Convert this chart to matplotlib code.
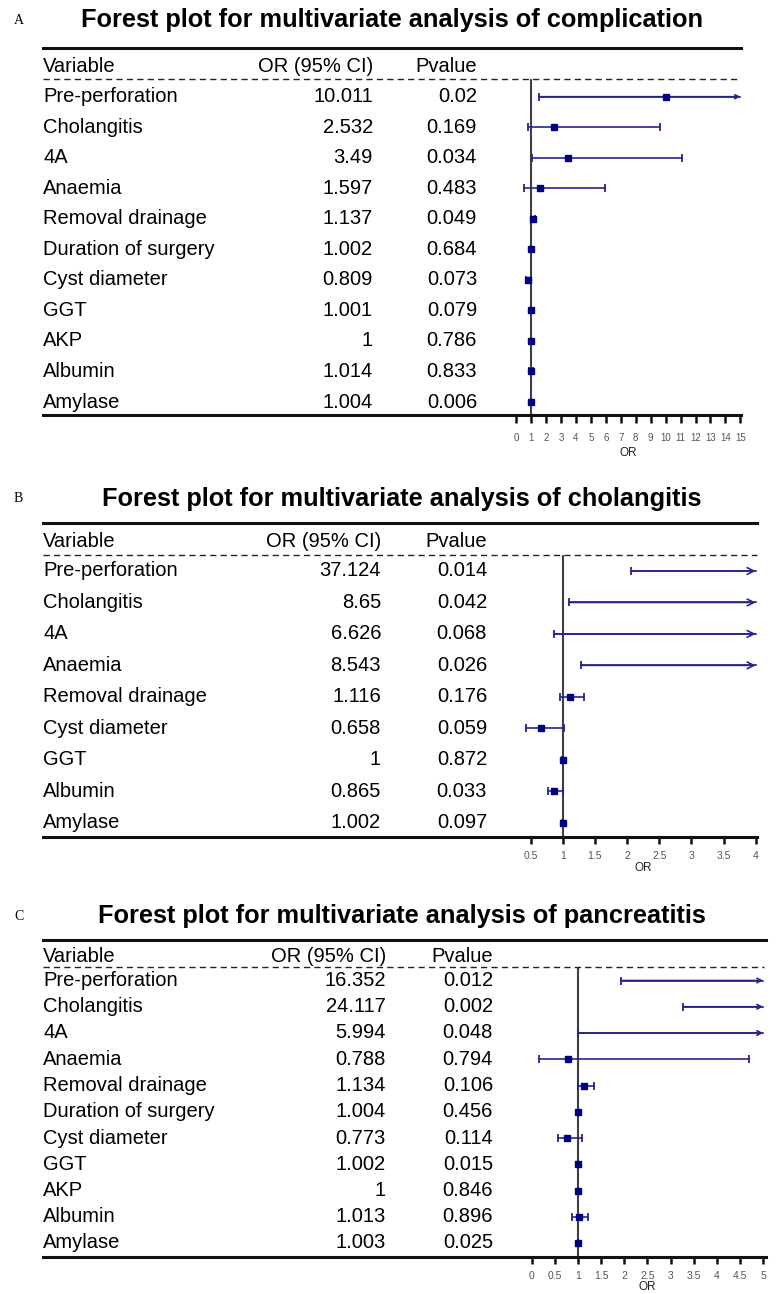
import numpy as np
import matplotlib.pyplot as plt
from matplotlib.transforms import blended_transform_factory

plt.rcParams['font.family'] = ['Liberation Sans', 'DejaVu Sans']

W, H = 777, 1294

# ---- data: panel A, complication ----
a_vars = ['Pre-perforation', 'Cholangitis', '4A', 'Anaemia', 'Removal drainage',
          'Duration of surgery', 'Cyst diameter', 'GGT', 'AKP', 'Albumin', 'Amylase']
a_or = [10.011, 2.532, 3.49, 1.597, 1.137, 1.002, 0.809, 1.001, 1, 1.014, 1.004]
a_p = [0.02, 0.169, 0.034, 0.483, 0.049, 0.684, 0.073, 0.079, 0.786, 0.833, 0.006]
a_lo = [1.56, 0.78, 1.05, 0.51, 1.0, 0.99, 0.66, 0.99, 0.99, 0.9, 0.99]
a_hi = [np.inf, 9.6, 11.1, 5.95, 1.29, 1.01, 1.0, 1.01, 1.01, 1.14, 1.02]
a_ticks = list(range(0, 16))

# ---- data: panel B, cholangitis ----
b_vars = ['Pre-perforation', 'Cholangitis', '4A', 'Anaemia', 'Removal drainage',
          'Cyst diameter', 'GGT', 'Albumin', 'Amylase']
b_or = [37.124, 8.65, 6.626, 8.543, 1.116, 0.658, 1, 0.865, 1.002]
b_p = [0.014, 0.042, 0.068, 0.026, 0.176, 0.059, 0.872, 0.033, 0.097]
b_lo = [2.06, 1.09, 0.87, 1.29, 0.96, 0.43, 0.99, 0.77, 0.99]
b_hi = [np.inf, np.inf, np.inf, np.inf, 1.33, 1.02, 1.01, 1.0, 1.01]
b_ticks = [0.5, 1, 1.5, 2, 2.5, 3, 3.5, 4]

# ---- data: panel C, pancreatitis ----
c_vars = a_vars
c_or = [16.352, 24.117, 5.994, 0.788, 1.134, 1.004, 0.773, 1.002, 1, 1.013, 1.003]
c_p = [0.012, 0.002, 0.048, 0.794, 0.106, 0.456, 0.114, 0.015, 0.846, 0.896, 0.025]
c_lo = [1.93, 3.27, 1.0, 0.16, 0.99, 0.99, 0.575, 0.99, 0.99, 0.88, 0.99]
c_hi = [np.inf, np.inf, np.inf, 4.7, 1.35, 1.01, 1.08, 1.01, 1.01, 1.22, 1.01]
c_ticks = [0, 0.5, 1, 1.5, 2, 2.5, 3, 3.5, 4, 4.5, 5]

line_col = '#25258f'
mark_col = '#000080'

fig = plt.figure(figsize=(W / 100, H / 100), dpi=100)


def draw_panel(letter, title, names, ors, ps, lo, hi, ticks, g):
    row0, step = g['row0'], g['step']
    rows = lambda py: (py - row0) / step
    x0, ppu = g['x0'], g['ppu']
    ax = fig.add_axes([490 / W, 1 - g['axis'] / H, 285 / W, (g['axis'] - g['dashed']) / H])
    ax.set_xlim((490 - x0) / ppu, (775 - x0) / ppu)
    ax.set_ylim(rows(g['axis']), rows(g['dashed']))
    for s in ax.spines.values():
        s.set_visible(False)
    ax.set_yticks([])
    ax.set_xticks(ticks)
    ax.set_xticklabels([f'{t:g}' for t in ticks], fontsize=g['tfs'], color='#555555')
    ax.tick_params(axis='x', length=g['tlen'], width=1.8, pad=g['tpad'], color='#111111')
    ax.axvline(1, color='#404040', lw=1.5, zorder=1)

    xmax = ticks[-1]
    for i in range(len(names)):
        h = min(hi[i], xmax)
        ax.plot([lo[i], h], [i, i], color=line_col, lw=1.2, zorder=2)
        ax.plot([lo[i]], [i], marker='|', ms=6, mew=1.3, color=line_col, zorder=2)
        if hi[i] > xmax:
            ax.annotate('', xy=(xmax, i), xytext=(lo[i], i),
                        arrowprops=dict(arrowstyle='->', color=line_col, lw=1.2,
                                        shrinkA=0, shrinkB=0, mutation_scale=g['head']))
        else:
            ax.plot([h], [i], marker='|', ms=6, mew=1.3, color=line_col, zorder=2)
        if ors[i] <= xmax:
            ax.plot([ors[i]], [i], marker='s', ms=4.5, color=mark_col, zorder=3)

    ax.text((ticks[0] + ticks[-1]) / 2, rows(g['axis'] + g['orlab']), 'OR',
            fontsize=8.5, ha='center', va='center', color='#222222', clip_on=False)

    tr = blended_transform_factory(fig.transFigure, ax.transData)
    left, end = 43 / W, g['end'] / W
    ax.plot([left, end], [rows(g['top'])] * 2, color='#111111', lw=2.2, transform=tr, clip_on=False)
    ax.plot([left, g['dend'] / W], [rows(g['dashed'])] * 2, color='#222222', lw=1.0,
            dashes=(4.5, 3), transform=tr, clip_on=False)
    ax.plot([left, end], [rows(g['axis'])] * 2, color='#111111', lw=2.2, transform=tr, clip_on=False)

    fs = 14.5
    hy = rows(g['header'])
    ax.text(left, hy, 'Variable', fontsize=fs, va='center', ha='left', transform=tr)
    ax.text(g['orx'] / W, hy, 'OR (95% CI)', fontsize=fs, va='center', ha='right', transform=tr)
    ax.text(g['px'] / W, hy, 'Pvalue', fontsize=fs, va='center', ha='right', transform=tr)
    for i, (n, o, p) in enumerate(zip(names, ors, ps)):
        ax.text(left, i, n, fontsize=fs, va='center', ha='left', transform=tr)
        ax.text(g['orx'] / W, i, f'{o:g}', fontsize=fs, va='center', ha='right', transform=tr)
        ax.text(g['px'] / W, i, f'{p:g}', fontsize=fs, va='center', ha='right', transform=tr)

    fig.text(14 / W, 1 - g['title'] / H, letter, fontsize=10, family='Liberation Serif',
             va='center', ha='left')
    fig.text(g['tx'] / W, 1 - g['title'] / H, title, fontsize=18.3, fontweight='bold',
             va='center', ha='center')


geo_a = dict(title=20, tx=392, top=47.7, header=66.7, dashed=79, row0=96.7, step=30.53,
             axis=415, x0=516, ppu=14.96, end=741, dend=737, orx=373, px=477,
             tlen=6, tpad=7, orlab=38, head=7, tfs=7)
geo_b = dict(title=499, tx=402, top=523, header=542, dashed=555, row0=571, step=31.45,
             axis=837, x0=498.5, ppu=64.3, end=757, dend=757, orx=381, px=487,
             tlen=5, tpad=5, orlab=31, head=12, tfs=7.5)
geo_c = dict(title=916, tx=402, top=940, header=956.7, dashed=967, row0=980.5, step=26.25,
             axis=1256.7, x0=531.7, ppu=46.3, end=766, dend=764, orx=386, px=493,
             tlen=5, tpad=5, orlab=30, head=8, tfs=7.5)

draw_panel('A', 'Forest plot for multivariate analysis of complication',
           a_vars, a_or, a_p, a_lo, a_hi, a_ticks, geo_a)
draw_panel('B', 'Forest plot for multivariate analysis of cholangitis',
           b_vars, b_or, b_p, b_lo, b_hi, b_ticks, geo_b)
draw_panel('C', 'Forest plot for multivariate analysis of pancreatitis',
           c_vars, c_or, c_p, c_lo, c_hi, c_ticks, geo_c)

fig.savefig('out.png', dpi=100)
